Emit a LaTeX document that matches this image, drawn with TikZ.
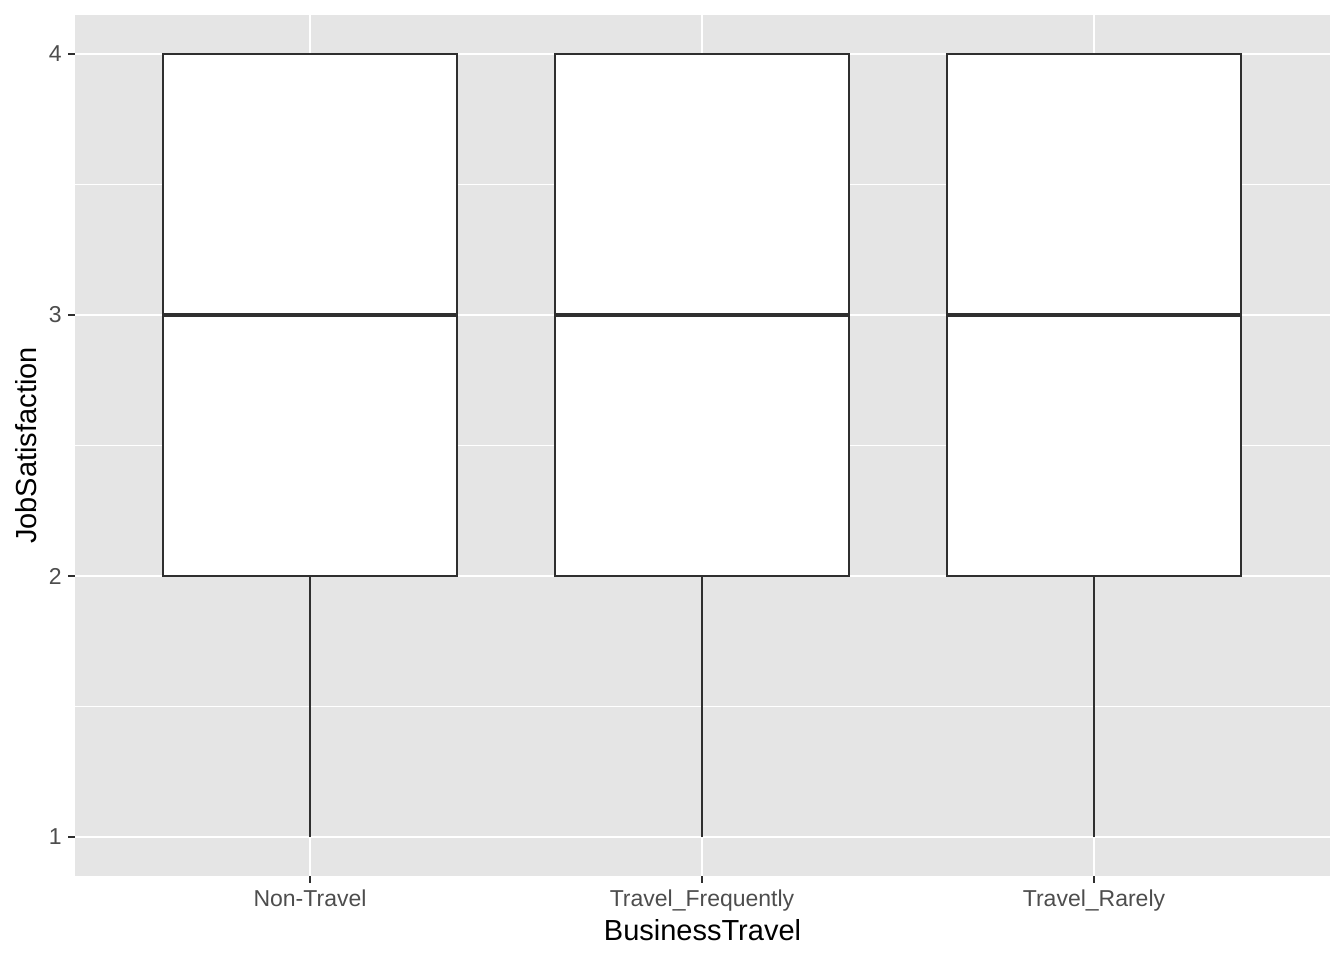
\documentclass[tikz,border=0pt]{standalone}
\usepackage{fontspec}
\setmainfont{Liberation Sans}
\usepackage{tikz}
\usetikzlibrary{calc,positioning}
\definecolor{panelgray}{HTML}{E5E5E5}
\definecolor{boxline}{HTML}{2F2F2F}
\definecolor{ticklab}{HTML}{4D4D4D}

\begin{document}
\begin{tikzpicture}[x=0.5pt,y=-0.5pt,
    ticklabel/.style={text=ticklab, font=\fontsize{11.5}{12}\selectfont, inner sep=0pt},
    axistitle/.style={text=black, font=\fontsize{14.5}{16}\selectfont, inner sep=0pt},
    boxstyle/.style={draw=boxline, fill=white, line width=1.15pt},
    majorgrid/.style={white, line width=1.25pt},
    minorgrid/.style={white, line width=0.6pt}]
    \pgfmathsetmacro{\left}{75}
    \pgfmathsetmacro{\right}{1330}
    \pgfmathsetmacro{\top}{15}
    \pgfmathsetmacro{\bot}{876}
    \pgfmathsetmacro{\half}{147}

    \useasboundingbox (0,0) rectangle (1344,960);
    % panel
    \fill[panelgray] (\left,\top) rectangle (\right,\bot);
    \draw[minorgrid] (\left,184.5) -- (\right,184.5);
    \draw[minorgrid] (\left,445.5) -- (\right,445.5);
    \draw[minorgrid] (\left,706.5) -- (\right,706.5);
    \draw[majorgrid] (\left,54) -- (\right,54);
    \draw[majorgrid] (\left,315) -- (\right,315);
    \draw[majorgrid] (\left,576) -- (\right,576);
    \draw[majorgrid] (\left,837) -- (\right,837);
    \draw[majorgrid] (310,\top) -- (310,\bot);
    \draw[majorgrid] (702,\top) -- (702,\bot);
    \draw[majorgrid] (1094,\top) -- (1094,\bot);

    % boxes
    \foreach \cx/\nm in {310/non, 702/freq, 1094/rare}{
      \coordinate (\nm-q1) at (\cx,576);
      \coordinate (\nm-min) at (\cx,837);
      \draw[boxline, line width=1.15pt] (\nm-q1) -- (\nm-min);
      \draw[boxstyle] (\cx-\half,54) rectangle (\cx+\half,576);
      \draw[boxline, line width=2.3pt] (\cx-\half,315) -- (\cx+\half,315);
    }

    % y axis
    \foreach \yy/\lab in {54/4, 315/3, 576/2, 837/1}{
      \draw[boxline, line width=1.15pt] (68,\yy) -- (\left,\yy);
      \node[ticklabel, anchor=east] (ytick\lab) at (62,\yy) {\lab};
    }
    % x axis
    \foreach \xx/\lab/\nm in {310/Non-Travel/non, 702/Travel\_Frequently/freq, 1094/Travel\_Rarely/rare}{
      \draw[boxline, line width=1.15pt] (\xx,\bot) -- (\xx,883);
      \node[ticklabel, anchor=base] (xtick-\nm) at (\xx,906) {\lab};
    }
    \node[axistitle, anchor=base] (xtitle) at (702.5,940) {BusinessTravel};
    \node[axistitle, anchor=base, rotate=90] (ytitle) at (36,445.5) {JobSatisfaction};
  \end{tikzpicture}
\end{document}
